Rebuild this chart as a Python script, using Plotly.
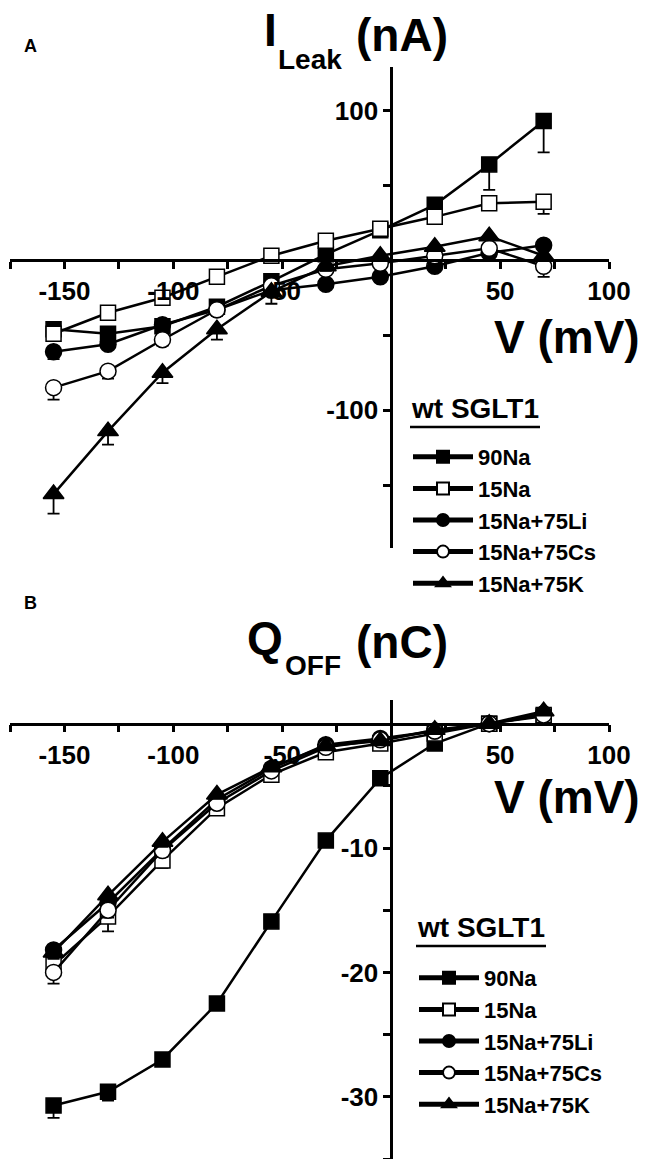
import plotly.graph_objects as go

# ---------------- data ----------------
V = [-155, -130, -105, -80, -55, -30, -5, 20, 45, 70]
series_names = ["90Na", "15Na", "15Na+75Li", "15Na+75Cs", "15Na+75K"]

# Panel A: I_Leak (nA)
ileak_90Na = [-46, -49, -44, -31, -14, 4, 20, 37, 64, 93]
ileak_15Na = [-49, -35, -25, -11, 3, 13, 21, 29, 38, 39]
ileak_15Na75Li = [-61, -56, -43, -33, -20, -16, -11, -4, 5, 10]
ileak_15Na75Cs = [-85, -74, -53, -33, -17, -6, -2, 3, 8, -4]
ileak_15Na75K = [-156, -114, -75, -46, -21, -4, 3, 9, 16, 3]
ileak_err_90Na = [2, 2, 2, 2, 2, 2, 2, 3, 17, 21]
ileak_err_15Na = [2, 2, 2, 2, 2, 3, 2, 3, 3, 8]
ileak_err_15Na75Li = [5, 3, 2, 2, 2, 2, 2, 2, 2, 2]
ileak_err_15Na75Cs = [8, 5, 4, 4, 2, 2, 2, 2, 3, 7]
ileak_err_15Na75K = [13, 9, 7, 7, 8, 3, 2, 2, 2, 2]

# Panel B: Q_OFF (nC)
qoff_90Na = [-30.7, -29.6, -27.0, -22.5, -15.9, -9.4, -4.4, -1.6, 0.0, 0.6]
qoff_15Na = [-19.4, -15.5, -11.0, -6.8, -4.1, -2.3, -1.6, -0.8, 0.0, 0.7]
qoff_15Na75Li = [-18.2, -14.4, -10.1, -6.1, -3.6, -1.7, -1.2, -0.6, 0.0, 0.8]
qoff_15Na75Cs = [-20.0, -15.0, -10.2, -6.4, -3.8, -1.9, -1.3, -0.6, 0.0, 0.7]
qoff_15Na75K = [-18.4, -13.8, -9.5, -5.7, -3.5, -1.8, -1.4, -0.5, 0.0, 1.0]
qoff_err_90Na = [1.0, 0.7, 0.5, 0.3, 0.3, 0.3, 0.3, 0.3, 0.2, 0.2]
qoff_err_15Na = [0.8, 1.2, 0.6, 0.4, 0.4, 0.3, 0.3, 0.2, 0.2, 0.2]
qoff_err_15Na75Li = [0.6, 0.5, 0.4, 0.3, 0.3, 0.2, 0.2, 0.2, 0.2, 0.2]
qoff_err_15Na75Cs = [0.9, 0.6, 0.5, 0.4, 0.3, 0.2, 0.2, 0.2, 0.2, 0.2]
qoff_err_15Na75K = [0.5, 0.5, 0.4, 0.3, 0.3, 0.2, 0.2, 0.2, 0.2, 0.2]

x_ticks = [-150, -100, -50, 50, 100]
x_minor = [-175, -125, -75, -25, 25, 75]
yA_ticks = [100, -100]
yA_minor = [50, -50, -150]
yB_ticks = [-10, -20, -30]
yB_minor = [-5, -15, -25, -35]

# ---------------- styles ----------------
FONT = "Liberation Sans, Arial, sans-serif"
W, H = 648, 1159
ML, MR = 10, 39
styles = [
    dict(symbol="square", color="black", size=15),
    dict(symbol="square", color="white", size=15),
    dict(symbol="circle", color="black", size=16),
    dict(symbol="circle", color="white", size=16),
    dict(symbol="triangle-up", color="black", size=18),
]

xr = [-175, 100]
yA_range = [-192, 129]
yB_range = [-35.0, 1.9]
domA = [1 - 548 / H, 1 - 67 / H]
domB = [0.0, 1 - 700 / H]

def frac(v, r):
    return (v - r[0]) / (r[1] - r[0])

fig = go.Figure()

panelA = [ileak_90Na, ileak_15Na, ileak_15Na75Li, ileak_15Na75Cs, ileak_15Na75K]
panelA_err = [ileak_err_90Na, ileak_err_15Na, ileak_err_15Na75Li, ileak_err_15Na75Cs, ileak_err_15Na75K]
panelB = [qoff_90Na, qoff_15Na, qoff_15Na75Li, qoff_15Na75Cs, qoff_15Na75K]
panelB_err = [qoff_err_90Na, qoff_err_15Na, qoff_err_15Na75Li, qoff_err_15Na75Cs, qoff_err_15Na75K]

for (vals, errs, xa, ya, leg) in [(panelA, panelA_err, "x", "y", "legend"),
                                   (panelB, panelB_err, "x2", "y2", "legend2")]:
    for name, st, yv, ev in zip(series_names, styles, vals, errs):
        fig.add_trace(go.Scatter(
            x=V, y=yv, name=name, mode="lines+markers",
            xaxis=xa, yaxis=ya, legend=leg,
            line=dict(color="black", width=2.5),
            marker=dict(symbol=st["symbol"], color=st["color"], size=st["size"],
                        line=dict(color="black", width=1.5)),
            error_y=dict(type="data", symmetric=False, array=[0] * len(ev),
                         arrayminus=ev, color="black", thickness=1.8, width=6),
        ))

axis_common = dict(showline=True, linecolor="black", linewidth=2.5, ticks="outside",
                   ticklen=7, tickwidth=2.5, tickcolor="black", showgrid=False,
                   zeroline=False, tickfont=dict(family=FONT, size=26, color="black"),
                   mirror=False)

def xaxis(pos):
    return dict(axis_common, range=xr, domain=[0, 1], anchor="free", position=pos,
                tickmode="array", tickvals=x_ticks,
                ticktext=["<b>%d</b>" % t for t in x_ticks],
                minor=dict(tickvals=x_minor, ticklen=7, tickwidth=2.5,
                           tickcolor="black", ticks="outside"))

def yaxis(rng, dom, tv, mv):
    return dict(axis_common, range=rng, domain=dom, anchor="free",
                position=frac(0, xr), tickmode="array", tickvals=tv,
                ticktext=["<b>%d</b>" % t for t in tv],
                minor=dict(tickvals=mv, ticklen=7, tickwidth=2.5,
                           tickcolor="black", ticks="outside"))

posA = domA[0] + frac(0, yA_range) * (domA[1] - domA[0])
posB = domB[0] + frac(0, yB_range) * (domB[1] - domB[0])

def px2x(p):
    return (p - ML) / (W - ML - MR)

def py2y(p):
    return 1 - p / H

legend_common = dict(font=dict(family=FONT, size=22, color="black", weight="bold"),
                     bgcolor="rgba(0,0,0,0)", borderwidth=0, xanchor="left",
                     yanchor="top", tracegroupgap=0, itemsizing="constant",
                     itemwidth=60)

fig.update_layout(
    width=W, height=H, margin=dict(l=ML, r=MR, t=0, b=0),
    plot_bgcolor="white", paper_bgcolor="white", showlegend=True,
    xaxis=xaxis(posA), yaxis=yaxis(yA_range, domA, yA_ticks, yA_minor),
    xaxis2=xaxis(posB), yaxis2=yaxis(yB_range, domB, yB_ticks, yB_minor),
    legend=dict(legend_common, x=px2x(408), y=py2y(436)),
    legend2=dict(legend_common, x=px2x(414), y=py2y(957)),
)

def ann(text, xp, yp, size, xanchor="center"):
    fig.add_annotation(text=text, x=px2x(xp), y=py2y(yp), xref="paper", yref="paper",
                       showarrow=False, xanchor=xanchor, yanchor="middle",
                       font=dict(family=FONT, size=size, color="black"))

ann("<b>A</b>", 30, 46, 18)
ann("<b>B</b>", 30, 603, 18)
# panel titles (main letter, subscript, unit)
ann("<b>I</b>", 262, 30, 46, "left")
ann("<b>Leak</b>", 276, 59, 28, "left")
ann("<b>(nA)</b>", 354, 35, 46, "left")
ann("<b>Q</b>", 245, 638, 46, "left")
ann("<b>OFF</b>", 283, 665, 28, "left")
ann("<b>(nC)</b>", 354, 642, 46, "left")
ann("<b>V (mV)</b>", 567, 337, 46)
ann("<b>V (mV)</b>", 567, 797, 46)
ann("<b>wt SGLT1</b>", 475, 408, 28)
ann("<b>wt SGLT1</b>", 481, 927, 28)
for (x0, x1, yy) in [(410, 540, 427), (416, 546, 946)]:
    fig.add_shape(type="line", xref="paper", yref="paper", x0=px2x(x0), x1=px2x(x1),
                  y0=py2y(yy), y1=py2y(yy), line=dict(color="black", width=2.5))

fig.write_html("out.html", config={"displayModeBar": False},
               post_script="document.body.style.margin='0';")
